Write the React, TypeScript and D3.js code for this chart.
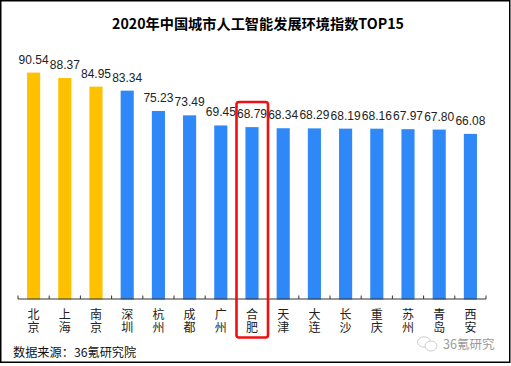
import React from "react";
import * as d3 from "d3";

const cities: string[] = ["北京", "上海", "南京", "深圳", "杭州", "成都", "广州", "合肥", "天津", "大连", "长沙", "重庆", "苏州", "青岛", "西安"];
const values: number[] = [90.54, 88.37, 84.95, 83.34, 75.23, 73.49, 69.45, 68.79, 68.34, 68.29, 68.19, 68.16, 67.97, 67.8, 66.08];
const highlighted: string[] = ["北京", "上海", "南京"];
const boxed = "合肥";
const title = "2020年中国城市人工智能发展环境指数TOP15";
const source = "数据来源：36氪研究院";
const watermark = "36氪研究";

const W = 511;
const H = 366;
const GOLD = "#FFC000";
const BLUE = "#2F88F7";

export default function App() {
  const x = d3.scaleBand<string>().domain(cities).range([18, 486]).padding(0);
  const y = d3.scaleLinear().domain([0, 100]).range([299.5, 299.5 - 250.6]);
  const bw = x.bandwidth() * 0.42;
  const tickXs = cities.map((c) => x(c)!).concat([x.range()[1]]);
  const bx = x(boxed)! + x.bandwidth() / 2;
  const cjk = "'Noto Sans CJK SC', 'Noto Sans', sans-serif";

  return (
    <svg width={W} height={H} style={{ position: "absolute", left: 0, top: 0, background: "#fff" }}>
      <rect x={0.75} y={0.75} width={509} height={361.5} fill="#fff" stroke="#000" strokeWidth={1.5} />
      <text x={258} y={29} textAnchor="middle" fontFamily={cjk} fontWeight="bold" fontSize={14.2} fill="#000">
        {title}
      </text>
      {cities.map((c, i) => {
        const cx = x(c)! + x.bandwidth() / 2;
        const top = y(values[i]);
        return (
          <g key={c}>
            <rect x={cx - bw / 2} y={top} width={bw} height={y(0) - top} fill={highlighted.includes(c) ? GOLD : BLUE} />
            <text x={cx} y={top - 9} textAnchor="middle" fontFamily="'Liberation Sans', Arial, sans-serif" fontSize={12} fill="#222">
              {values[i].toFixed(2)}
            </text>
            <text
              x={cx}
              y={308}
              fontFamily={cjk}
              fontSize={12}
              fill="#222"
              letterSpacing={1}
              style={{ writingMode: "vertical-rl" }}
            >
              {c}
            </text>
          </g>
        );
      })}
      <line x1={x.range()[0]} x2={x.range()[1]} y1={299} y2={299} stroke="#333" strokeWidth={1} />
      {tickXs.map((tx, i) => (
        <line key={i} x1={tx} x2={tx} y1={299} y2={295.5} stroke="#333" strokeWidth={1} />
      ))}
      <rect x={bx - 15.5} y={102} width={31.5} height={235.5} rx={2.5} fill="none" stroke="#F01010" strokeWidth={2.6} />
      <text x={13} y={356.5} fontFamily={cjk} fontSize={12.2} fill="#111">
        {source}
      </text>
      <g stroke="#c8c8c8" fill="none" strokeWidth={0.9}>
        <ellipse cx={424} cy={342} rx={6.5} ry={5.2} />
        <ellipse cx={431} cy={346} rx={6} ry={5} fill="#fff" />
      </g>
      <text x={443} y={348.5} fontFamily={cjk} fontSize={12.5} fill="#9a9a9a">
        {watermark}
      </text>
    </svg>
  );
}
